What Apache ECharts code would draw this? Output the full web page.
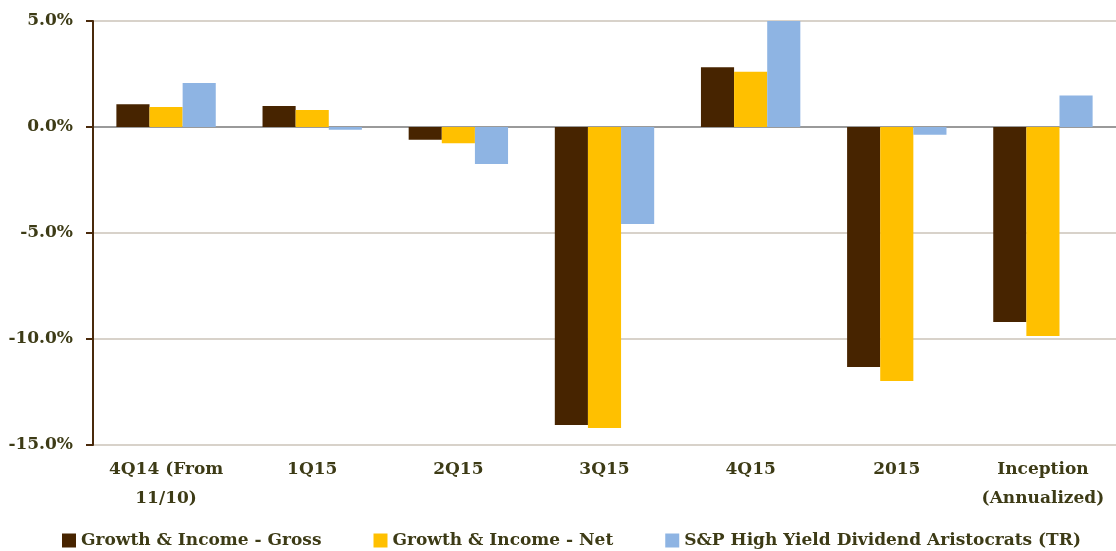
<!DOCTYPE html>
<html>
<head>
<meta charset="utf-8">
<script src="https://cdn.jsdelivr.net/npm/echarts@6/dist/echarts.min.js"></script>
<style>
  html, body { margin: 0; padding: 0; background: #fff; }
  #chart { width: 1116px; height: 551px; }
</style>
</head>
<body>
<div id="chart"></div>
<script>
// periods on the x axis
const periods = ['4Q14 (From\n11/10)', '1Q15', '2Q15', '3Q15', '4Q15', '2015', 'Inception\n(Annualized)']
// returns in percent
const gross = [1.07, 0.99, -0.60, -14.06, 2.82, -11.32, -9.20]
const net = [0.94, 0.80, -0.77, -14.20, 2.61, -11.98, -9.86]
const aristocrats = [2.07, -0.13, -1.75, -4.58, 5.00, -0.36, 1.48]

const textColor = '#3d3b16'
const font = 'DejaVu Serif'

const chart = echarts.init(document.getElementById('chart'))

const option = {
  animation: false,
  textStyle: { fontFamily: font },
  grid: { left: 93, right: 0, top: 21, bottom: 106 },
  legend: {
    top: 532,
    left: 62,
    padding: 0,
    icon: 'rect',
    itemWidth: 14,
    itemHeight: 14,
    itemGap: 52,
    textStyle: { color: textColor, fontSize: 17, fontWeight: 'bold', fontFamily: font }
  },
  xAxis: {
    type: 'category',
    data: periods,
    axisLine: { show: false },
    axisTick: { show: false },
    axisLabel: {
      color: textColor, fontSize: 17, fontWeight: 'bold', fontFamily: font,
      margin: 10, lineHeight: 29, interval: 0
    }
  },
  yAxis: {
    type: 'value',
    min: -15,
    max: 5,
    interval: 5,
    axisLine: { show: true, lineStyle: { color: '#4a2a0c', width: 2 } },
    axisTick: { show: true, length: 7, lineStyle: { color: '#4a2a0c', width: 2 } },
    axisLabel: {
      color: textColor, fontSize: 17, fontWeight: 'bold', fontFamily: font, margin: 20,
      formatter: v => v.toFixed(1) + '%'
    },
    splitLine: {
      lineStyle: { color: ['#d8d2ca', '#d8d2ca', '#d8d2ca', '#9a9a9a', '#d8d2ca'], width: 2 }
    }
  },
  series: [
    { name: 'Growth & Income - Gross', type: 'bar', data: gross, barGap: 0, barCategoryGap: '32%',
      itemStyle: { color: '#472400' } },
    { name: 'Growth & Income - Net', type: 'bar', data: net, barGap: 0,
      itemStyle: { color: '#ffc000' } },
    { name: 'S&P High Yield Dividend Aristocrats (TR)', type: 'bar', data: aristocrats, barGap: 0,
      itemStyle: { color: '#8eb4e3' } }
  ]
}
chart.setOption(option)
</script>
</body>
</html>
